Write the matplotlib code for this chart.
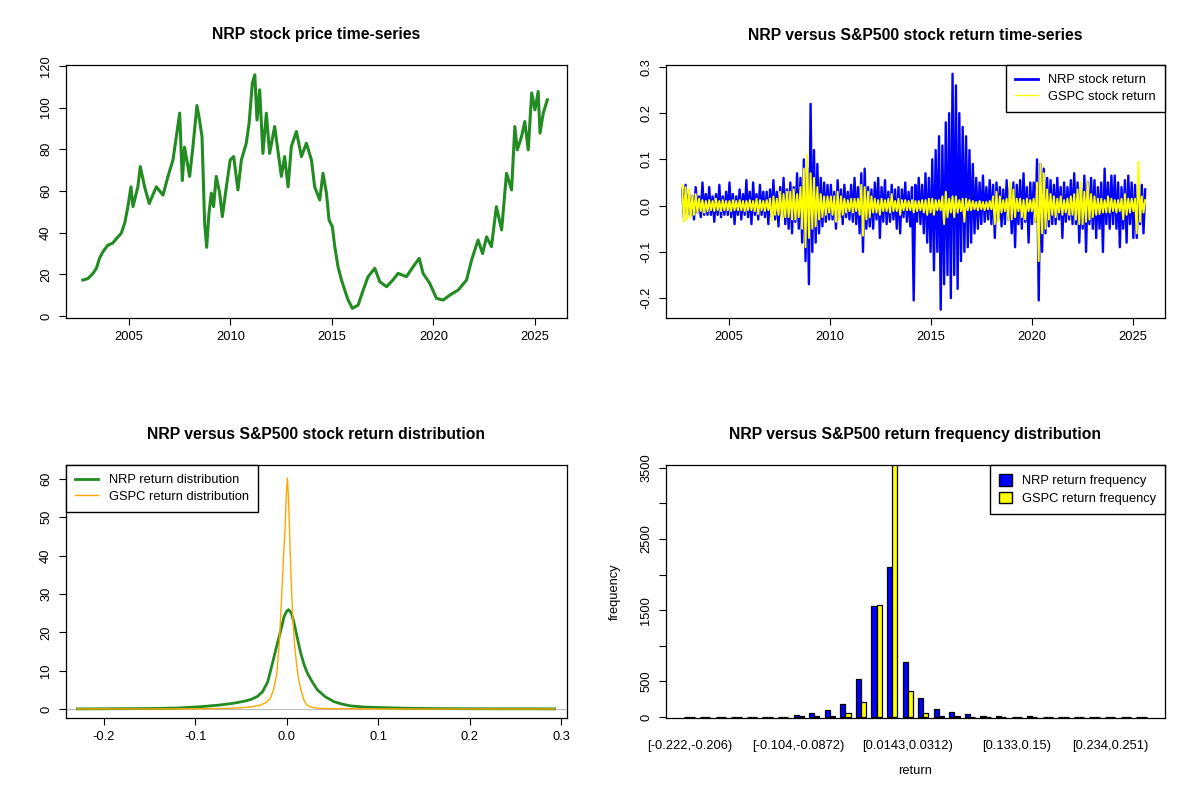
import numpy as np
import matplotlib
matplotlib.use("Agg")
import matplotlib.pyplot as plt
from matplotlib.lines import Line2D
from matplotlib.patches import Patch

plt.rcParams['font.family'] = ['Liberation Sans', 'DejaVu Sans']

# --- NRP price (decimal year, close)
price_year = [2002.73, 2002.98, 2003.23, 2003.4, 2003.55, 2003.72, 2003.96, 2004.2, 2004.46,
              2004.62, 2004.79, 2004.95, 2005.1, 2005.2, 2005.44, 2005.56, 2005.77, 2006.0,
              2006.35, 2006.68, 2006.92, 2007.17, 2007.5, 2007.63, 2007.74, 2007.99, 2008.15,
              2008.35, 2008.48, 2008.6, 2008.73, 2008.83, 2008.94, 2009.06, 2009.17, 2009.3,
              2009.47, 2009.6, 2009.8, 2009.99, 2010.16, 2010.37, 2010.54, 2010.78, 2010.92,
              2011.08, 2011.2, 2011.31, 2011.44, 2011.6, 2011.77, 2011.93, 2012.18, 2012.51,
              2012.67, 2012.84, 2013.0, 2013.25, 2013.5, 2013.74, 2013.99, 2014.15, 2014.4,
              2014.56, 2014.73, 2014.86, 2015.02, 2015.14, 2015.3, 2015.47, 2015.63, 2015.8,
              2016.01, 2016.29, 2016.54, 2016.78, 2017.11, 2017.36, 2017.69, 2018.0, 2018.26,
              2018.67, 2019.0, 2019.3, 2019.49, 2019.82, 2020.15, 2020.48, 2020.81, 2021.22,
              2021.63, 2021.88, 2022.2, 2022.42, 2022.62, 2022.86, 2023.1, 2023.36, 2023.6,
              2023.85, 2024.01, 2024.13, 2024.34, 2024.5, 2024.67, 2024.84, 2025.0, 2025.16,
              2025.25, 2025.41, 2025.61]
price_val = [17.3, 18, 20.5, 23, 27.7, 30.9, 34, 35, 38,
             39.7, 44.5, 52.5, 62, 52.5, 62, 71.7, 62, 54,
             62, 58, 66.9, 74.9, 97.3, 65, 81, 67, 81,
             101, 94, 86, 44.5, 33, 49, 59, 52.5, 67,
             59, 47.7, 62, 74.9, 76.5, 60.5, 74.9, 82.9, 92.5,
             111.7, 115.7, 94, 108.5, 78, 97.3, 78, 90.9, 67,
             76.5, 62, 81.3, 88.5, 76.5, 82.9, 74.9, 62, 55.7,
             68.5, 58.9, 46, 42.9, 33.3, 23.7, 17.3, 12.5, 7.7,
             3.7, 5.3, 12.5, 18.9, 22.9, 16.5, 14.1, 17.3, 20.5,
             18.9, 23.7, 27.7, 20.5, 15.7, 8.5, 7.7, 10.1, 12.5,
             17.3, 26.9, 36.5, 30, 38, 33.3, 52.5, 41.3, 68.5,
             60.5, 90.9, 79.7, 86, 93.3, 79.7, 107, 98.9, 107.7,
             87.7, 97.3, 103.7]

# --- daily returns, sampled as alternating highs / lows, 12 per year (2002.7 - 2025.6)
ret_start, ret_end = 2002.7, 2025.6
nrp_ret = [
    0.035, -0.025, 0.045, -0.02,
    0.025, -0.02, 0.02, -0.03, 0.04, -0.015, 0.02, -0.025, 0.05, -0.02, 0.025, -0.02,
    0.04, -0.02, 0.02, -0.035, 0.025, -0.02, 0.045, -0.025, 0.02, -0.02, 0.03, -0.02,
    0.05, -0.025, 0.025, -0.04, 0.02, -0.02, 0.035, -0.03, 0.025, -0.02, 0.055, -0.025,
    0.03, -0.04, 0.05, -0.02, 0.025, -0.03, 0.045, -0.02, 0.03, -0.025, 0.03, -0.04,
    0.035, -0.025, 0.055, -0.03, 0.03, -0.045, 0.04, -0.025, 0.06, -0.04, 0.035, -0.05,
    0.05, -0.06, 0.04, -0.035, 0.07, -0.05, 0.06, -0.08, 0.1, -0.12, 0.08, -0.17,
    0.22, -0.1, 0.12, -0.08, 0.09, -0.06, 0.06, -0.045, 0.05, -0.035, 0.045, -0.03,
    0.045, -0.03, 0.03, -0.05, 0.055, -0.025, 0.035, -0.04, 0.045, -0.025, 0.03, -0.03,
    0.045, -0.035, 0.06, -0.04, 0.04, -0.06, 0.07, -0.1, 0.08, -0.05, 0.04, -0.045,
    0.035, -0.05, 0.05, -0.03, 0.06, -0.07, 0.04, -0.035, 0.055, -0.04, 0.03, -0.035,
    0.045, -0.03, 0.035, -0.05, 0.04, -0.06, 0.035, -0.025, 0.05, -0.035, 0.03, -0.045,
    0.04, -0.205, 0.045, -0.035, 0.06, -0.04, 0.045, -0.06, 0.07, -0.08, 0.06, -0.1,
    0.1, -0.14, 0.12, -0.1, 0.15, -0.225, 0.13, -0.17, 0.18, -0.15, 0.2, -0.2,
    0.285, -0.15, 0.26, -0.18, 0.2, -0.12, 0.17, -0.1, 0.15, -0.09, 0.12, -0.08,
    0.09, -0.06, 0.06, -0.05, 0.05, -0.04, 0.065, -0.035, 0.04, -0.03, 0.055, -0.04,
    0.045, -0.07, 0.05, -0.03, 0.04, -0.045, 0.035, -0.04, 0.055, -0.03, 0.04, -0.06,
    0.05, -0.09, 0.045, -0.04, 0.055, -0.05, 0.07, -0.035, 0.04, -0.08, 0.05, -0.04,
    0.05, -0.035, 0.1, -0.205, 0.09, -0.1, 0.08, -0.06, 0.06, -0.045, 0.055, -0.04,
    0.045, -0.04, 0.06, -0.03, 0.04, -0.07, 0.05, -0.035, 0.04, -0.03, 0.055, -0.04,
    0.07, -0.04, 0.05, -0.08, 0.04, -0.05, 0.065, -0.1, 0.05, -0.04, 0.06, -0.05,
    0.055, -0.07, 0.04, -0.05, 0.05, -0.1, 0.08, -0.04, 0.05, -0.05, 0.065, -0.04,
    0.065, -0.05, 0.05, -0.09, 0.04, -0.05, 0.055, -0.08, 0.065, -0.04, 0.05, -0.07,
    0.045, -0.07, 0.05, -0.04, 0.045, -0.06, 0.035]
gspc_ret = [
    0.045, -0.035, 0.04, -0.03,
    0.035, -0.025, 0.02, -0.02, 0.025, -0.015, 0.015, -0.012, 0.012, -0.015, 0.01, -0.012,
    0.012, -0.01, 0.01, -0.012, 0.015, -0.01, 0.01, -0.012, 0.012, -0.01, 0.01, -0.01,
    0.01, -0.012, 0.012, -0.01, 0.01, -0.01, 0.012, -0.01, 0.01, -0.012, 0.01, -0.01,
    0.012, -0.01, 0.01, -0.012, 0.015, -0.018, 0.012, -0.01, 0.01, -0.012, 0.012, -0.01,
    0.015, -0.035, 0.02, -0.02, 0.015, -0.02, 0.03, -0.03, 0.025, -0.025, 0.03, -0.025,
    0.03, -0.03, 0.035, -0.03, 0.025, -0.025, 0.04, -0.05, 0.08, -0.09, 0.11, -0.07,
    0.07, -0.05, 0.06, -0.045, 0.04, -0.03, 0.025, -0.025, 0.02, -0.02, 0.02, -0.015,
    0.02, -0.02, 0.02, -0.035, 0.03, -0.03, 0.02, -0.02, 0.015, -0.015, 0.012, -0.012,
    0.015, -0.015, 0.015, -0.012, 0.015, -0.02, 0.045, -0.065, 0.04, -0.03, 0.03, -0.025,
    0.02, -0.015, 0.015, -0.015, 0.012, -0.02, 0.015, -0.012, 0.012, -0.012, 0.015, -0.015,
    0.025, -0.012, 0.01, -0.012, 0.015, -0.02, 0.012, -0.01, 0.012, -0.01, 0.01, -0.01,
    0.012, -0.015, 0.01, -0.012, 0.01, -0.01, 0.012, -0.015, 0.012, -0.02, 0.015, -0.015,
    0.015, -0.02, 0.012, -0.01, 0.012, -0.01, 0.02, -0.04, 0.03, -0.025, 0.015, -0.015,
    0.02, -0.025, 0.02, -0.015, 0.012, -0.012, 0.015, -0.035, 0.015, -0.01, 0.012, -0.01,
    0.01, -0.008, 0.008, -0.01, 0.01, -0.008, 0.008, -0.01, 0.008, -0.008, 0.01, -0.008,
    0.02, -0.04, 0.03, -0.035, 0.02, -0.015, 0.012, -0.012, 0.015, -0.03, 0.05, -0.03,
    0.035, -0.025, 0.015, -0.012, 0.015, -0.025, 0.012, -0.03, 0.015, -0.012, 0.012, -0.012,
    0.015, -0.035, 0.05, -0.12, 0.09, -0.06, 0.07, -0.05, 0.035, -0.03, 0.025, -0.02,
    0.02, -0.025, 0.015, -0.015, 0.02, -0.02, 0.012, -0.015, 0.015, -0.02, 0.02, -0.02,
    0.025, -0.03, 0.035, -0.04, 0.05, -0.04, 0.03, -0.035, 0.05, -0.03, 0.025, -0.025,
    0.02, -0.02, 0.015, -0.018, 0.015, -0.015, 0.012, -0.015, 0.02, -0.015, 0.015, -0.012,
    0.012, -0.015, 0.012, -0.012, 0.015, -0.03, 0.025, -0.02, 0.015, -0.015, 0.015, -0.012,
    0.015, -0.06, 0.095, -0.035, 0.02, -0.015, 0.012]

# --- kernel densities
nrp_dens_x = [-0.229, -0.2, -0.15, -0.12, -0.094, -0.075, -0.058, -0.045, -0.039, -0.032,
              -0.0266, -0.021, -0.0157, -0.012, -0.0083, -0.005, -0.003, 0.0, 0.002, 0.005,
              0.008, 0.012, 0.0153, 0.019, 0.0226, 0.028, 0.0335, 0.042, 0.0517, 0.06, 0.07,
              0.085, 0.106, 0.13, 0.16, 0.2, 0.24, 0.27, 0.293]
nrp_dens_y = [0.02, 0.05, 0.12, 0.25, 0.6, 1.0, 1.5, 2.1, 2.5, 3.3,
              4.5, 7.0, 11.9, 15.5, 18.9, 22.0, 24.1, 25.5, 25.9, 25.0,
              22.4, 18.0, 14.5, 11.5, 9.3, 7.0, 5.0, 3.2, 1.9, 1.3, 0.8,
              0.5, 0.35, 0.2, 0.12, 0.06, 0.05, 0.05, 0.02]
gspc_dens_x = [-0.229, -0.15, -0.1, -0.075, -0.058, -0.04, -0.029, -0.022, -0.018, -0.0145,
               -0.0109, -0.008, -0.0055, -0.0035, -0.0018, -0.0005, 0.0007, 0.0018, 0.0029,
               0.0045, 0.0066, 0.0088, 0.011, 0.0135, 0.0164, 0.019, 0.022, 0.027, 0.033,
               0.045, 0.07, 0.1, 0.15, 0.2, 0.293]
gspc_dens_y = [0.0, 0.02, 0.05, 0.1, 0.2, 0.5, 1.0, 1.8, 2.8, 5.0,
               9.3, 18.0, 30.0, 40.0, 47.6, 56.0, 60.2, 55.0, 47.6,
               35.0, 23.3, 16.0, 11.0, 7.0, 4.1, 2.2, 1.0, 0.5, 0.2,
               0.1, 0.05, 0.02, 0.0, 0.0, 0.0]

# --- frequency table (30 bins)
bin_labels = ["[-0.222,-0.206)", "[-0.206,-0.189)", "[-0.189,-0.172)", "[-0.172,-0.155)",
              "[-0.155,-0.138)", "[-0.138,-0.121)", "[-0.121,-0.104)", "[-0.104,-0.0872)",
              "[-0.0872,-0.0703)", "[-0.0703,-0.0535)", "[-0.0535,-0.0366)", "[-0.0366,-0.0198)",
              "[-0.0198,-0.0029)", "[-0.0029,0.0143)", "[0.0143,0.0312)", "[0.0312,0.048)",
              "[0.048,0.0649)", "[0.0649,0.0817)", "[0.0817,0.0986)", "[0.0986,0.116)",
              "[0.116,0.133)", "[0.133,0.15)", "[0.15,0.167)", "[0.167,0.184)",
              "[0.184,0.201)", "[0.201,0.217)", "[0.217,0.234)", "[0.234,0.251)",
              "[0.251,0.268)", "[0.268,0.285)"]
nrp_freq = [1, 4, 1, 1, 4, 3, 3, 30, 52, 94, 188, 530, 1556, 2104, 769,
            262, 108, 66, 37, 15, 14, 3, 10, 2, 1, 1, 1, 1, 1, 1]
gspc_freq = [0, 0, 0, 0, 0, 1, 1, 8, 10, 20, 50, 206, 1570, 3980, 361,
             52, 18, 8, 3, 1, 1, 0, 0, 0, 0, 0, 0, 0, 0, 0]
shown_bins = [0, 7, 14, 21, 27]

FS = 9.3
TITLE_KW = dict(fontsize=11.3, fontweight='bold', ha='center', va='center')
LEG_KW = dict(borderaxespad=0, fancybox=False, edgecolor='black', framealpha=1,
              fontsize=FS, borderpad=0.7, labelspacing=0.35)


def add_ax(left, top, right, bottom):
    ax = fig.add_axes([left / 1200, 1 - bottom / 800, (right - left) / 1200, (bottom - top) / 800])
    ax.tick_params(direction='out', length=5, width=0.8, labelsize=FS, pad=4)
    ax.tick_params(axis='y', labelrotation=90, pad=5)
    for s in ax.spines.values():
        s.set_linewidth(0.9)
    return ax


def fix_ylabels(ax):
    for lab in ax.get_yticklabels():
        lab.set_va('center')


fig = plt.figure(figsize=(12, 8), dpi=100)

# top-left: price
ax1 = add_ax(66, 65, 567, 318)
ax1.plot(price_year, price_val, color='forestgreen', lw=2.2)
ax1.set_xlim(2001.9, 2026.58)
ax1.set_ylim(-0.9, 120.4)
ax1.set_xticks([2005, 2010, 2015, 2020, 2025])
ax1.set_yticks([0, 20, 40, 60, 80, 100, 120])
fix_ylabels(ax1)
fig.text(316 / 1200, 1 - 35 / 800, "NRP stock price time-series", **TITLE_KW)

# top-right: returns
ax2 = add_ax(666, 65, 1165, 318)
ax2.plot(np.linspace(ret_start, ret_end, len(nrp_ret)), nrp_ret, color='blue', lw=1.7)
ax2.plot(np.linspace(ret_start, ret_end, len(gspc_ret)), gspc_ret, color='yellow', lw=1.4)
ax2.set_xlim(2001.9, 2026.58)
ax2.set_ylim(-0.243, 0.304)
ax2.set_xticks([2005, 2010, 2015, 2020, 2025])
ax2.set_yticks([-0.2, -0.1, 0.0, 0.1, 0.2, 0.3])
ax2.set_yticklabels(["-0.2", "-0.1", "0.0", "0.1", "0.2", "0.3"])
fix_ylabels(ax2)
ax2.legend(handles=[Line2D([], [], color='blue', lw=2), Line2D([], [], color='yellow', lw=1)],
           labels=["NRP stock return", "GSPC stock return"], loc='upper right',
           handlelength=1.8, **LEG_KW)
fig.text(915 / 1200, 1 - 35 / 800, "NRP versus S&P500 stock return time-series", **TITLE_KW)

# bottom-left: densities
ax3 = add_ax(66, 465, 567, 718)
ax3.axhline(0, color='#bebebe', lw=0.8)
ax3.plot(nrp_dens_x, nrp_dens_y, color='forestgreen', lw=2)
ax3.plot(gspc_dens_x, gspc_dens_y, color='orange', lw=1)
ax3.set_xlim(-0.2416, 0.3066)
ax3.set_ylim(-2.35, 63.6)
ax3.set_xticks([-0.2, -0.1, 0.0, 0.1, 0.2, 0.3])
ax3.set_xticklabels(["-0.2", "-0.1", "0.0", "0.1", "0.2", "0.3"])
ax3.set_yticks([0, 10, 20, 30, 40, 50, 60])
fix_ylabels(ax3)
ax3.legend(handles=[Line2D([], [], color='forestgreen', lw=2), Line2D([], [], color='orange', lw=1)],
           labels=["NRP return distribution", "GSPC return distribution"], loc='upper left',
           handlelength=1.8, **LEG_KW)
fig.text(316 / 1200, 1 - 435 / 800, "NRP versus S&P500 stock return distribution", **TITLE_KW)

# bottom-right: grouped frequency bars
ax4 = add_ax(666, 465, 1165, 718)
centers = 2 + 3 * np.arange(len(bin_labels))
ax4.bar(centers - 0.5, nrp_freq, width=1, color='blue', edgecolor='black', lw=0.9)
ax4.bar(centers + 0.5, gspc_freq, width=1, color='yellow', edgecolor='black', lw=0.9)
ax4.set_xlim(-2.56, 93.56)
ax4.set_ylim(-14, 3540)
ax4.set_xticks(centers[shown_bins])
ax4.set_xticklabels([bin_labels[i] for i in shown_bins])
ax4.tick_params(axis='x', length=0, pad=16)
ax4.set_yticks([0, 500, 1000, 1500, 2000, 2500, 3000, 3500])
ax4.set_yticklabels(["0", "500", "", "1500", "", "2500", "", "3500"])
fix_ylabels(ax4)
ax4.set_xlabel("return", fontsize=FS, labelpad=9)
ax4.set_ylabel("frequency", fontsize=FS, labelpad=14)
ax4.legend(handles=[Patch(facecolor='blue', edgecolor='black'), Patch(facecolor='yellow', edgecolor='black')],
           labels=["NRP return frequency", "GSPC return frequency"], loc='upper right',
           handlelength=1.0, handleheight=1.0, **LEG_KW)
fig.text(915 / 1200, 1 - 435 / 800, "NRP versus S&P500 return frequency distribution", **TITLE_KW)

fig.savefig("out.png", dpi=100)
